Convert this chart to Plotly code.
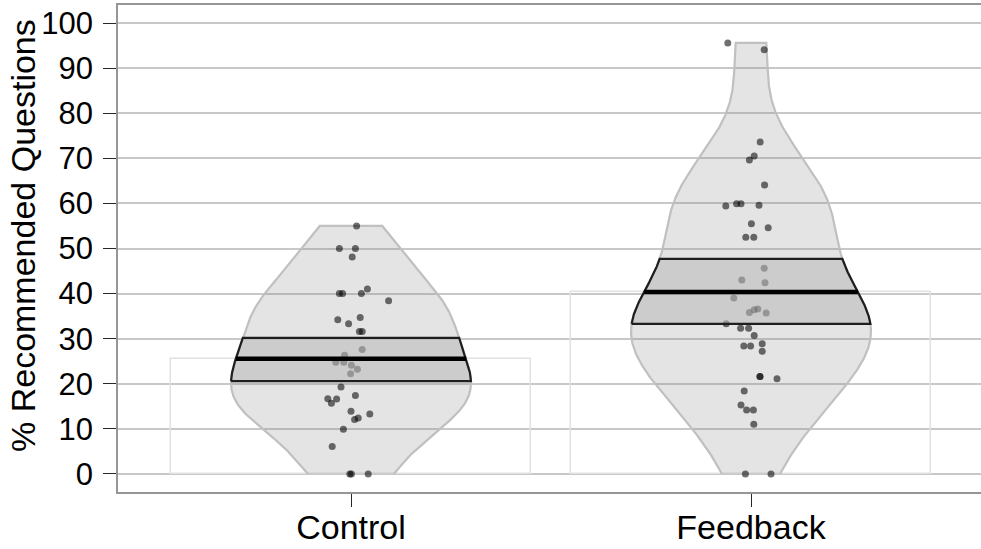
import numpy as np
import plotly.graph_objects as go

# ---------------- data ----------------
categories = ["Control", "Feedback"]
positions = [1, 2]

control_values = [55, 50, 50, 48.1, 40, 40, 40, 41, 38.4, 34.2, 33.3, 34.7, 31.6, 31.6,
                  27.6, 26.3, 24.8, 24.8, 24.1, 23.2, 22.2, 19.3, 16.7, 15.7, 16.6, 17.4,
                  13.9, 13.3, 12.1, 12.4, 9.9, 6.1, 0, 0, 0]
control_jitter = [0.014, -0.029, 0.011, 0.003, -0.029, -0.021, 0.026, 0.041, 0.094, -0.033,
                  -0.006, 0.023, 0.021, 0.028, 0.028, -0.016, -0.038, -0.018, 0.001, 0.016,
                  -0.001, -0.025, -0.058, -0.049, -0.036, 0.011, 0.000, 0.047, 0.009, 0.018,
                  -0.019, -0.047, -0.003, 0.001, 0.043]

feedback_values = [95.6, 94.1, 73.6, 70.5, 69.6, 64.1, 59.4, 59.9, 59.9, 59.6, 55.5, 54.6,
                   52.5, 52.5, 45.6, 43.0, 42.4, 39.0, 35.8, 36.4, 36.6, 35.7, 33.3, 32.3,
                   32.3, 30.7, 28.4, 28.4, 28.9, 27.2, 21.6, 21.6, 21.1, 18.4, 15.3, 14.2,
                   14.2, 11.0, 0, 0]
feedback_jitter = [-0.058, 0.033, 0.023, 0.008, -0.004, 0.034, -0.063, -0.036, -0.025, 0.020,
                   0.001, 0.043, -0.013, 0.007, 0.033, -0.023, 0.035, -0.043, -0.004, 0.008,
                   0.017, 0.038, -0.062, -0.026, -0.006, 0.008, -0.018, -0.001, 0.028, 0.028,
                   0.022, 0.023, 0.065, -0.017, -0.025, -0.011, 0.006, 0.007, -0.014, 0.050]

hdi_low = [20.6, 33.3]
hdi_high = [30.2, 47.7]

y_tick_values = [0, 10, 20, 30, 40, 50, 60, 70, 80, 90, 100]
y_title = "% Recommended Questions"

groups = [control_values, feedback_values]
jitters = [control_jitter, feedback_jitter]

# ---------------- helpers ----------------
MAX_HALF = 0.30


def bw_nrd0(v):
    v = np.asarray(v, float)
    sd = v.std(ddof=1)
    q75, q25 = np.percentile(v, [75, 25])
    lo = min(sd, (q75 - q25) / 1.34)
    return 0.9 * lo * len(v) ** (-0.2)


def density(v, grid):
    v = np.asarray(v, float)
    h = bw_nrd0(v)
    d = np.exp(-0.5 * ((grid[:, None] - v[None, :]) / h) ** 2).sum(axis=1)
    return d


def half_width_fn(v):
    grid = np.linspace(min(v), max(v), 512)
    d = density(v, grid)
    d = d / d.max() * MAX_HALF
    return grid, d


fig = go.Figure()

means = [float(np.mean(g)) for g in groups]

# bars
fig.add_trace(go.Bar(x=positions, y=means, width=0.9,
                     marker=dict(color="rgba(255,255,255,0)",
                                 line=dict(color="rgb(225,225,225)", width=1.5)),
                     hoverinfo="skip", showlegend=False))

# violins
for pos, vals in zip(positions, groups):
    grid, hw = half_width_fn(vals)
    xs = np.concatenate([pos - hw, (pos + hw)[::-1]])
    ys = np.concatenate([grid, grid[::-1]])
    fig.add_trace(go.Scatter(x=xs, y=ys, mode="lines", fill="toself",
                             fillcolor="rgba(140,140,140,0.23)",
                             line=dict(color="rgb(192,192,192)", width=2.2),
                             hoverinfo="skip", showlegend=False))

# points
for pos, vals, jit in zip(positions, groups, jitters):
    fig.add_trace(go.Scatter(x=[pos + j for j in jit], y=vals, mode="markers",
                             marker=dict(color="rgba(0,0,0,0.56)", size=7, line=dict(width=0)),
                             hoverinfo="skip", showlegend=False))

# HDI bands following the bean shape
for pos, vals, lo, hi in zip(positions, groups, hdi_low, hdi_high):
    grid, hw = half_width_fn(vals)
    gy = np.linspace(lo, hi, 120)
    ghw = np.interp(gy, grid, hw)
    xs = np.concatenate([pos - ghw, (pos + ghw)[::-1], [pos - ghw[0]]])
    ys = np.concatenate([gy, gy[::-1], [gy[0]]])
    fig.add_trace(go.Scatter(x=xs, y=ys, mode="lines", fill="toself",
                             fillcolor="rgba(186,186,186,0.58)",
                             line=dict(color="rgb(30,30,30)", width=2.2),
                             hoverinfo="skip", showlegend=False))

# mean lines
for pos, vals, m in zip(positions, groups, means):
    grid, hw = half_width_fn(vals)
    w = float(np.interp(m, grid, hw))
    fig.add_trace(go.Scatter(x=[pos - w, pos + w], y=[m, m], mode="lines",
                             line=dict(color="black", width=4.5),
                             hoverinfo="skip", showlegend=False))

font_family = "Liberation Sans, Arial, sans-serif"

fig.update_layout(
    width=981, height=549,
    margin=dict(l=118, r=0, t=5, b=57),
    paper_bgcolor="white", plot_bgcolor="white",
    font=dict(family=font_family, size=30, color="black"),
    showlegend=False,
    bargap=0,
)
fig.update_xaxes(
    range=[0.4175, 2.575], tickvals=positions, ticktext=categories,
    showgrid=False, zeroline=False, automargin=False,
    showline=True, mirror=True, linecolor="rgb(150,150,150)", linewidth=1.5,
    ticks="outside", ticklen=13, tickwidth=1.2, tickcolor="rgb(40,40,40)",
    ticklabelstandoff=-9,
    tickfont=dict(size=34, family=font_family, color="black"),
)
fig.update_yaxes(
    range=[-4, 104], tickvals=y_tick_values,
    showgrid=True, gridcolor="rgb(200,200,200)", gridwidth=1.8,
    zeroline=False, automargin=False,
    showline=True, linecolor="rgb(150,150,150)", linewidth=1.5,
    ticks="outside", ticklen=13, tickwidth=1.2, tickcolor="rgb(40,40,40)",
    ticklabelstandoff=4,
    tickfont=dict(size=31, family=font_family, color="black"),
)
fig.add_annotation(text=y_title, textangle=-90, showarrow=False,
                   xref="paper", yref="paper",
                   x=(23 - 118) / 863, y=1 - (236 - 5) / 487,
                   xanchor="center", yanchor="middle",
                   font=dict(size=34, family=font_family, color="black"))

fig.write_html("out.html")
